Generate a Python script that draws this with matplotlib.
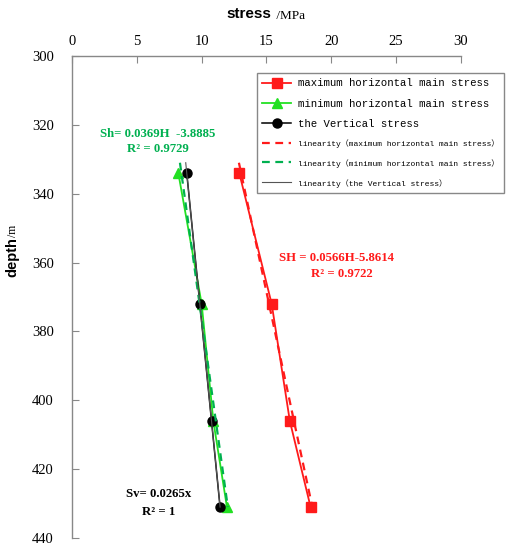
import matplotlib
matplotlib.use("Agg")
import matplotlib.pyplot as plt
import numpy as np

# Data
depth = [334, 372, 406, 431]
sH_max = [12.9, 15.4, 16.8, 18.4]
sh_min = [8.2, 10.0, 10.9, 11.95]
sv = [8.85, 9.86, 10.76, 11.42]

fit_depth = [331, 431]
fit_max = (0.0566, -5.8614)
fit_min = (0.0369, -3.8885)
fit_v = (0.0265, 0.0)

x_ticks = [0, 5, 10, 15, 20, 25, 30]
y_ticks = [300, 320, 340, 360, 380, 400, 420, 440]

labels = ["maximum horizontal main stress",
          "minimum horizontal main stress",
          "the Vertical stress",
          "linearity\uff08maximum horizontal main stress\uff09",
          "linearity\uff08minimum horizontal main stress\uff09",
          "linearity\uff08the Vertical stress\uff09"]

RED = "#ff1a1a"
GREEN = "#22e022"
TEAL = "#00b050"

fig = plt.figure(figsize=(5.12, 5.53), dpi=100)
ax = fig.add_axes([0.1406, 0.0271, 0.9004 - 0.1406, 0.8987 - 0.0271])

fd = np.array(fit_depth, dtype=float)
l1, = ax.plot(sH_max, depth, color=RED, marker="s", markersize=6.5, lw=1.3)
l2, = ax.plot(sh_min, depth, color=GREEN, marker="^", markersize=7, lw=1.3)
l3, = ax.plot(sv, depth, color="black", marker="o", markersize=6.5, lw=1.1)
l4, = ax.plot(fit_max[0] * fd + fit_max[1], fd, color=RED, ls=(0, (3.5, 2.5)), lw=1.6)
l5, = ax.plot(fit_min[0] * fd + fit_min[1], fd, color=TEAL, ls=(0, (3.5, 2.5)), lw=1.6)
l6, = ax.plot(fit_v[0] * fd + fit_v[1], fd, color="#555555", lw=0.8)

ax.set_xlim(0, 30)
ax.set_ylim(440, 300)
ax.set_xticks(x_ticks)
ax.set_yticks(y_ticks)
ax.xaxis.tick_top()
ax.tick_params(axis="both", direction="in", length=5, color="#888888",
               labelsize=10.5)
ax.tick_params(axis="x", pad=6)
ax.tick_params(axis="y", pad=13)
for lab in ax.get_xticklabels() + ax.get_yticklabels():
    lab.set_fontfamily("Liberation Serif")
for s in ["right", "bottom"]:
    ax.spines[s].set_visible(False)
for s in ["left", "top"]:
    ax.spines[s].set_color("#888888")
    ax.spines[s].set_linewidth(1.0)

# Axis titles
fig.text(0.53, 0.974, "stress", ha="right", va="center",
         fontfamily="Liberation Sans", fontweight="bold", fontsize=11)
fig.text(0.533, 0.971, " /MPa", ha="left", va="center",
         fontfamily="Liberation Serif", fontsize=9.5)
fig.text(0.024, 1 - 237 / 553, "depth", ha="center", va="top", rotation=90,
         fontfamily="Liberation Sans", fontweight="bold", fontsize=10.5)
fig.text(0.026, 1 - 237 / 553, "/m", ha="center", va="bottom", rotation=90,
         fontfamily="Liberation Serif", fontsize=8.5)

# Annotations
ann = dict(fontfamily="Liberation Serif", fontweight="bold", fontsize=9.2,
           ha="center", va="center")
ax.text(6.6, 322.6, "Sh= 0.0369H  -3.8885", color=TEAL, **ann)
ax.text(6.6, 327.1, "R\u00b2 = 0.9729", color=TEAL, **ann)
ax.text(20.4, 358.7, "SH = 0.0566H-5.8614", color=RED, **ann)
ax.text(20.8, 363.4, "R\u00b2 = 0.9722", color=RED, **ann)
ax.text(6.7, 427.2, "Sv= 0.0265x", color="black", **ann)
ax.text(6.7, 432.4, "R\u00b2 = 1", color="black", **ann)

# Legend
leg = fig.legend([l1, l2, l3, l4, l5, l6], labels,
                 loc="upper left", bbox_to_anchor=(257 / 512, 1 - 73 / 553),
                 prop={"family": ["Liberation Mono", "Noto Sans CJK SC"], "size": 7.7},
                 frameon=True, fancybox=False, edgecolor="#888888",
                 framealpha=1, handlelength=2.7, labelspacing=0.95,
                 borderpad=0.5, handletextpad=0.6, borderaxespad=0)
leg.get_frame().set_linewidth(1.0)
for i, t in enumerate(leg.get_texts()):
    if i >= 3:
        t.set_fontsize(5.75)

fig.savefig("out.png", dpi=100)
